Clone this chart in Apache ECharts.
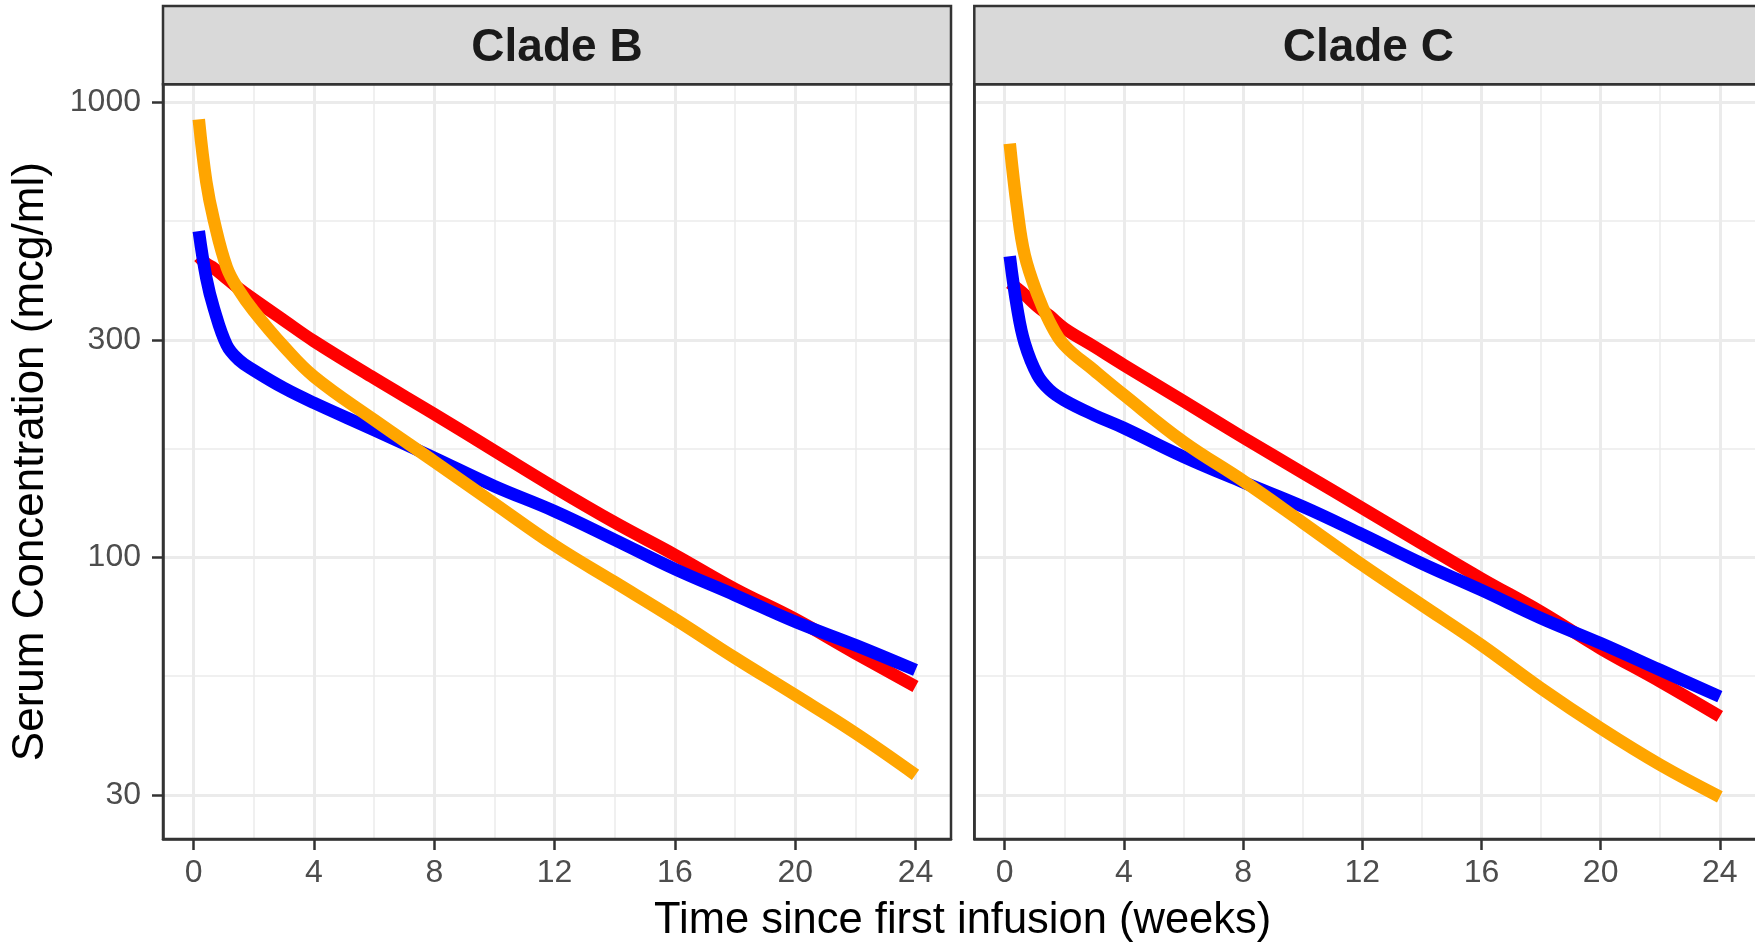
<!DOCTYPE html>
<html>
<head>
<meta charset="utf-8">
<script src="https://cdn.jsdelivr.net/npm/echarts@6/dist/echarts.min.js"></script>
<style>
html,body{margin:0;padding:0;background:#fff;}
#chart{width:1755px;height:943px;}
</style>
</head>
<body>
<div id="chart"></div>
<script>
// ---- data (weeks since first infusion, serum concentration mcg/ml) ----
const panels = ['Clade B', 'Clade C'];
const weeks = [0.17, 0.42, 0.67, 1.1, 1.5, 2, 3, 4, 6, 8, 10, 12, 14, 16, 18, 20, 22, 24];

const cladeB_red    = [457, 441, 431, 409, 389, 368, 331, 298, 247, 206, 171, 142, 119, 101, 85, 73, 61.4, 51.9];
const cladeB_blue   = [520, 410, 352, 292, 271, 257, 235, 218, 190, 165, 143, 126, 109, 94, 82.4, 72, 64, 56.4];
const cladeB_orange = [915, 667, 550, 433, 386, 347, 290, 249, 200, 162, 131, 106, 88, 73, 60, 49.7, 41, 33.2];

const cladeC_red    = [400, 389, 377, 355, 339, 318, 290, 264, 220, 183, 153, 128, 107, 89.6, 75.7, 62.9, 53.2, 44.6];
const cladeC_blue   = [458, 352, 295, 251, 233, 221, 205, 192, 166, 146, 129, 112, 96.7, 84.5, 73.3, 64.6, 56.4, 49.3];
const cladeC_orange = [810, 583, 461, 377, 329, 292, 257, 227, 179, 147, 119, 96, 78.4, 64, 51.4, 42, 34.9, 29.7];

const xMajorTicks = [0, 4, 8, 12, 16, 20, 24];
const xMinorBreaks = [2, 6, 10, 14, 18, 22];
const yMajorTicks = [30, 100, 300, 1000];
const yMinorBreaks = [54.77, 173.2, 547.7];

const xTitle = 'Time since first infusion (weeks)';
const yTitle = 'Serum Concentration (mcg/ml)';
const lineColors = ['#FF0000', '#0000FF', '#FFA500'];

// ---- layout ----
const FONT = '"Liberation Sans", Arial, Helvetica, sans-serif';
const gridTop = 84.3, gridH = 754.7, gridW = 788;
const gridLefts = [163, 974.3];
const X_MIN = -1.02, X_MAX = 25.18;
const Y_MIN = 23.99, Y_MAX = 1093;

function pair(xs, ys) { return xs.map((x, i) => [x, ys[i]]); }
const seriesData = [
  [cladeB_red, cladeB_blue, cladeB_orange],
  [cladeC_red, cladeC_blue, cladeC_orange]
];

const grids = [], xAxes = [], yAxes = [], series = [], graphics = [];
gridLefts.forEach((left, p) => {
  grids.push({ left: left, top: gridTop, width: gridW, height: gridH, show: true,
               backgroundColor: '#fff', borderWidth: 0 });
  // major x axis
  xAxes.push({
    type: 'value', gridIndex: p, min: X_MIN, max: X_MAX, position: 'bottom',
    axisLine: { show: true, onZero: false, lineStyle: { color: '#333333', width: 2.5 } },
    axisTick: { show: true, length: 11, customValues: xMajorTicks, lineStyle: { color: '#333333', width: 2.5 } },
    axisLabel: { show: true, customValues: xMajorTicks, margin: 18, color: '#4D4D4D', fontSize: 32, fontFamily: FONT },
    splitLine: { show: true, lineStyle: { color: '#EBEBEB', width: 3 } }
  });
  // minor x grid
  xAxes.push({
    type: 'value', gridIndex: p, min: X_MIN, max: X_MAX, position: 'bottom',
    axisLine: { show: false, onZero: false }, axisTick: { show: false, customValues: xMinorBreaks },
    axisLabel: { show: false, customValues: xMinorBreaks },
    splitLine: { show: true, lineStyle: { color: '#EBEBEB', width: 1.5 } }
  });
  // major y axis
  yAxes.push({
    type: 'log', logBase: 10, gridIndex: p, min: Y_MIN, max: Y_MAX, position: 'left',
    axisLine: { show: true, onZero: false, lineStyle: { color: '#333333', width: 2.5 } },
    axisTick: { show: p === 0, length: 11, customValues: yMajorTicks, lineStyle: { color: '#333333', width: 2.5 } },
    axisLabel: { show: p === 0, customValues: yMajorTicks, margin: 22, color: '#4D4D4D', fontSize: 32, fontFamily: FONT,
                 formatter: v => String(Math.round(v)) },
    splitLine: { show: true, lineStyle: { color: '#EBEBEB', width: 3 } }
  });
  // minor y grid
  yAxes.push({
    type: 'log', logBase: 10, gridIndex: p, min: Y_MIN, max: Y_MAX, position: 'left',
    axisLine: { show: false, onZero: false }, axisTick: { show: false, customValues: yMinorBreaks },
    axisLabel: { show: false, customValues: yMinorBreaks },
    splitLine: { show: true, lineStyle: { color: '#EBEBEB', width: 1.5 } }
  });
  seriesData[p].forEach((ys, k) => {
    series.push({
      type: 'line', xAxisIndex: p * 2, yAxisIndex: p * 2, data: pair(weeks, ys),
      showSymbol: false, symbol: 'none', smooth: 0.4,
      lineStyle: { color: lineColors[k], width: 12.5, cap: 'butt', join: 'round' },
      z: 3 + k, silent: true, animation: false
    });
  });
  // panel border
  graphics.push({ type: 'rect', z: 100, silent: true,
    shape: { x: left, y: gridTop, width: gridW, height: gridH },
    style: { fill: 'none', stroke: '#333333', lineWidth: 2.5 } });
  // strip
  graphics.push({ type: 'rect', z: 100, silent: true,
    shape: { x: left, y: 6, width: gridW, height: gridTop - 6 },
    style: { fill: '#D9D9D9', stroke: '#333333', lineWidth: 2.5 } });
  graphics.push({ type: 'text', z: 101, silent: true, x: left + gridW / 2, y: (6 + gridTop) / 2 + 3,
    style: { text: panels[p], fill: '#1A1A1A', font: 'bold 46px ' + FONT, align: 'center', verticalAlign: 'middle' } });
});

graphics.push({ type: 'text', z: 101, silent: true, x: (gridLefts[0] + gridLefts[1] + gridW) / 2, y: 921,
  style: { text: xTitle, fill: '#000000', font: '43.5px ' + FONT, align: 'center', verticalAlign: 'middle' } });
graphics.push({ type: 'text', z: 101, silent: true, x: 31, y: gridTop + gridH / 2, rotation: Math.PI / 2,
  style: { text: yTitle, fill: '#000000', font: '44px ' + FONT, align: 'center', verticalAlign: 'middle' } });

const chart = echarts.init(document.getElementById('chart'), null, { renderer: 'canvas' });
chart.setOption({
  animation: false,
  backgroundColor: '#ffffff',
  grid: grids, xAxis: xAxes, yAxis: yAxes, series: series, graphic: graphics
});
</script>
</body>
</html>
